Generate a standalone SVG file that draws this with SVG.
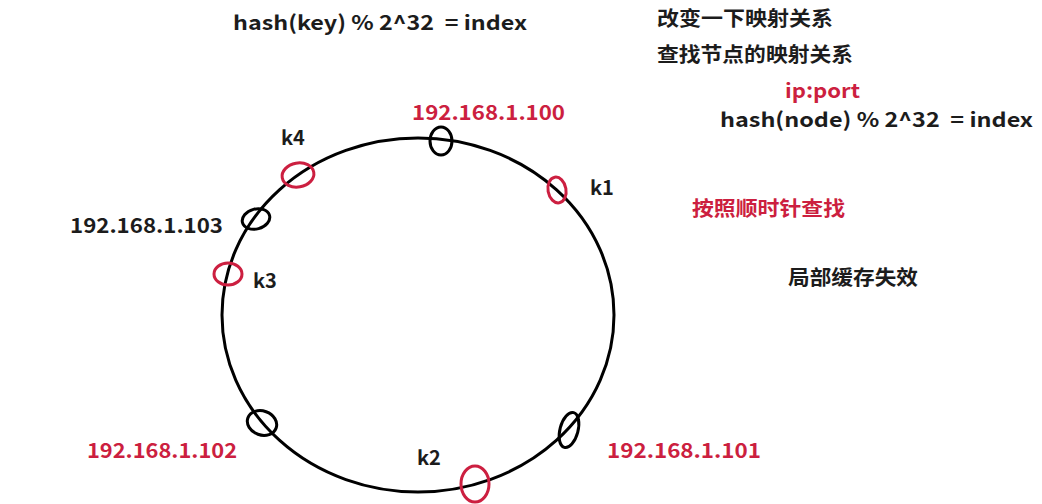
<svg xmlns="http://www.w3.org/2000/svg" width="1042" height="504" viewBox="0 0 1042 504">
<style>
text{font-family:"Noto Sans CJK SC","Open Sans",sans-serif;font-weight:bold;font-size:20px;fill:#1c1c1c;white-space:pre}
.red{fill:#cc1f40}
.ring{fill:none;stroke:#000;stroke-width:3}
.srv{fill:none;stroke:#000;stroke-width:3}
.key{fill:none;stroke:#cc1f40;stroke-width:3}
</style>
<rect width="1042" height="504" fill="#fff"/>
<g id="connectors">
<ellipse class="ring" cx="418" cy="315" rx="196" ry="177"/>
</g>
<g id="title">
<text x="233" y="30" textLength="294" lengthAdjust="spacingAndGlyphs" xml:space="preserve">hash(key) % 2^32  = index</text>
</g>
<g id="notes">
<text x="657" y="26" textLength="176" lengthAdjust="spacingAndGlyphs">改变一下映射关系</text>
<text x="657" y="62" textLength="196" lengthAdjust="spacingAndGlyphs">查找节点的映射关系</text>
<text class="red" x="785" y="98" textLength="75" lengthAdjust="spacingAndGlyphs">ip:port</text>
<text x="720" y="127" textLength="313" lengthAdjust="spacingAndGlyphs" xml:space="preserve">hash(node) % 2^32  = index</text>
<text class="red" x="692" y="216" textLength="153" lengthAdjust="spacingAndGlyphs">按照顺时针查找</text>
<text x="788" y="285" textLength="130" lengthAdjust="spacingAndGlyphs">局部缓存失效</text>
</g>
<g id="node-100">
<ellipse class="srv" cx="441" cy="141" rx="11" ry="14"/>
<text class="red" x="412" y="120" textLength="153" lengthAdjust="spacingAndGlyphs">192.168.1.100</text>
</g>
<g id="node-101">
<ellipse class="srv" cx="569" cy="430" rx="9" ry="18" transform="rotate(15 569 430)"/>
<text class="red" x="607" y="458" textLength="154" lengthAdjust="spacingAndGlyphs">192.168.1.101</text>
</g>
<g id="node-102">
<ellipse class="srv" cx="262" cy="423" rx="15" ry="12" transform="rotate(20 262 423)"/>
<text class="red" x="87" y="458" textLength="150" lengthAdjust="spacingAndGlyphs">192.168.1.102</text>
</g>
<g id="node-103">
<ellipse class="srv" cx="256" cy="219" rx="14" ry="10" transform="rotate(-15 256 219)"/>
<text x="70" y="233" textLength="153" lengthAdjust="spacingAndGlyphs">192.168.1.103</text>
</g>
<g id="key-k1">
<ellipse class="key" cx="557" cy="190" rx="9" ry="13" transform="rotate(-10 557 190)"/>
<text x="590" y="195">k1</text>
</g>
<g id="key-k2">
<ellipse class="key" cx="475" cy="484" rx="14" ry="18"/>
<text x="417" y="465">k2</text>
</g>
<g id="key-k3">
<ellipse class="key" cx="228" cy="274" rx="14" ry="11"/>
<text x="253" y="288">k3</text>
</g>
<g id="key-k4">
<ellipse class="key" cx="298" cy="175" rx="16" ry="12" transform="rotate(-10 298 175)"/>
<text x="281" y="145">k4</text>
</g>
</svg>
